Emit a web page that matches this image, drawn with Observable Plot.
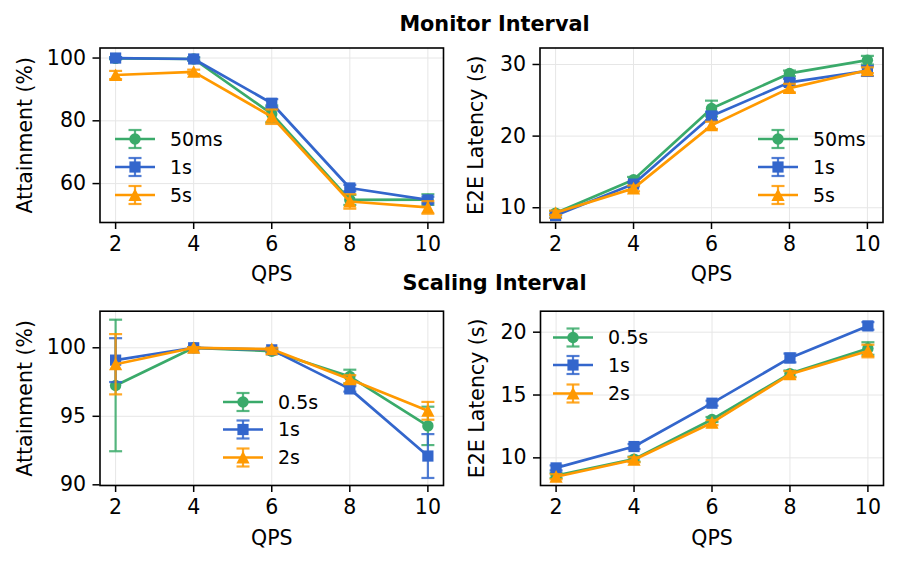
<!DOCTYPE html>
<html>
<head>
<meta charset="utf-8">
<script src="https://cdn.jsdelivr.net/npm/d3@7"></script>
<script src="https://cdn.jsdelivr.net/npm/@observablehq/plot@0.6"></script>
<style>
  body { margin: 0; background: #fff; font-family: "DejaVu Sans", sans-serif; }
  #wrap { position: relative; width: 898px; height: 565px; overflow: hidden; background: #fff; }
  #wrap svg { position: absolute; }
</style>
</head>
<body>
<div id="wrap"></div>
<script>
// ---- data ----
const qps = [2, 4, 6, 8, 10];
const monitorLabels = ["50ms", "1s", "5s"];
const scalingLabels = ["0.5s", "1s", "2s"];
const seriesColors = ["#3aaa6a", "#3366cc", "#ff9900"];

// Monitor interval – attainment (%)
const monAttain50ms = [99.9, 99.7, 82.2, 54.8, 54.9];
const monAttain50msErr = [0.3, 0.5, 2.7, 1.6, 1.7];
const monAttain1s = [100.0, 99.7, 85.6, 58.6, 54.8];
const monAttain1sErr = [0.3, 0.5, 1.3, 1.0, 1.0];
const monAttain5s = [94.6, 95.6, 81.3, 54.3, 52.4];
const monAttain5sErr = [1.3, 0.7, 2.3, 2.3, 2.0];

// Monitor interval – E2E latency (s)
const monLat50ms = [9.25, 13.9, 23.85, 28.75, 30.6];
const monLat50msErr = [0.3, 0.4, 1.1, 0.4, 0.6];
const monLat1s = [8.9, 13.3, 22.8, 27.5, 29.1];
const monLat1sErr = [0.3, 0.3, 0.6, 0.5, 0.7];
const monLat5s = [9.3, 12.7, 21.5, 26.7, 29.2];
const monLat5sErr = [0.3, 0.4, 0.5, 0.6, 0.4];

// Scaling interval – attainment (%)
const scaAttain05s = [97.25, 100.0, 99.75, 97.9, 94.3];
const scaAttain05sErr = [4.8, 0.05, 0.1, 0.5, 1.4];
const scaAttain1s = [99.1, 100.0, 99.85, 97.0, 92.1];
const scaAttain1sErr = [1.6, 0.05, 0.1, 0.2, 1.6];
const scaAttain2s = [98.8, 100.0, 99.9, 97.7, 95.4];
const scaAttain2sErr = [2.2, 0.05, 0.1, 0.3, 0.65];

// Scaling interval – E2E latency (s)
const scaLat05s = [8.6, 9.9, 13.05, 16.7, 18.7];
const scaLat05sErr = [0.2, 0.2, 0.2, 0.25, 0.5];
const scaLat1s = [9.2, 10.9, 14.35, 17.95, 20.5];
const scaLat1sErr = [0.2, 0.2, 0.2, 0.35, 0.3];
const scaLat2s = [8.5, 9.85, 12.8, 16.65, 18.5];
const scaLat2sErr = [0.2, 0.2, 0.2, 0.25, 0.5];

const attainTicks = [60, 80, 100];
const latTicks = [10, 20, 30];
const scaAttainTicks = [90, 95, 100];
const scaLatTicks = [10, 15, 20];

// ---- helpers ----
function rowsOf(values, errs) {
  return qps.map((q, i) => ({qps: q, v: values[i], lo: values[i] - errs[i], hi: values[i] + errs[i]}));
}
const symCircle = {draw(c) { c.moveTo(5.7, 0); c.arc(0, 0, 5.7, 0, 2 * Math.PI); }};
const symSquare = {draw(c) { c.rect(-5.6, -5.6, 11.2, 11.2); }};
const symTriangle = {draw(c) { c.moveTo(0, -6.6); c.lineTo(6.6, 6); c.lineTo(-6.6, 6); c.closePath(); }};
const symCap = {draw(c) { c.moveTo(-6.5, 0); c.lineTo(6.5, 0); }};
const symbols = [symCircle, symSquare, symTriangle];

const FONT = "DejaVu Sans";

function panel(o) {
  const marks = [
    Plot.gridX({ticks: qps, stroke: "#e6e6e6", strokeOpacity: 1, strokeWidth: 1}),
    Plot.gridY({ticks: o.yTicks, stroke: "#e6e6e6", strokeOpacity: 1, strokeWidth: 1}),
    Plot.axisX({ticks: qps, tickSize: 7, tickPadding: 7, strokeWidth: 1.5, fontSize: 20.5, label: null}),
    Plot.axisX({ticks: [], tickSize: 0, label: "QPS", labelAnchor: "center", labelArrow: "none", labelOffset: o.xLabelOffset, fontSize: 20.5}),
    Plot.axisY({ticks: o.yTicks, tickSize: 7, tickPadding: 7, strokeWidth: 1.5, fontSize: 20.5, label: null}),
    Plot.axisY({ticks: [], tickSize: 0, label: o.yLabel, labelAnchor: "center", labelArrow: "none", labelOffset: o.yLabelOffset, fontSize: 20.5})
  ];
  o.series.forEach((rows, i) => {
    const c = seriesColors[i];
    marks.push(
      Plot.ruleX(rows, {x: "qps", y1: "lo", y2: "hi", stroke: c, strokeWidth: 2.2, strokeOpacity: 0.85}),
      Plot.dot(rows, {x: "qps", y: "lo", symbol: symCap, fill: "none", stroke: c, strokeWidth: 2.2, strokeOpacity: 0.85}),
      Plot.dot(rows, {x: "qps", y: "hi", symbol: symCap, fill: "none", stroke: c, strokeWidth: 2.2, strokeOpacity: 0.85}),
      Plot.line(rows, {x: "qps", y: "v", stroke: c, strokeWidth: 2.7}),
      Plot.dot(rows, {x: "qps", y: "v", symbol: symbols[i], fill: c, stroke: "none"})
    );
  });
  marks.push(Plot.frame({stroke: "black", strokeWidth: 1.6}));
  const svg = Plot.plot({
    width: o.width, height: o.height,
    marginLeft: o.ml, marginRight: o.mr, marginTop: o.mt, marginBottom: o.mb,
    style: {background: "none", overflow: "visible", fontFamily: FONT, color: "black"},
    x: {type: "linear", domain: [1.6, 10.4]},
    y: {type: "linear", domain: o.yDomain},
    marks
  });
  svg.style.left = o.left + "px";
  svg.style.top = o.top + "px";
  // legend
  const g = d3.select(svg).append("g").attr("font-family", FONT).attr("font-size", 19).attr("text-anchor", "start");
  o.labels.forEach((lab, i) => {
    const c = seriesColors[i];
    const y = o.legY[i] - o.top;
    const x0 = o.legX - o.left;
    const e = g.append("g");
    e.append("line").attr("x1", x0 + 20).attr("x2", x0 + 20).attr("y1", y - 9).attr("y2", y + 9)
      .attr("stroke", c).attr("stroke-width", 2.2).attr("stroke-opacity", 0.85);
    [-9, 9].forEach(d => e.append("line").attr("x1", x0 + 13.5).attr("x2", x0 + 26.5).attr("y1", y + d).attr("y2", y + d)
      .attr("stroke", c).attr("stroke-width", 2.2).attr("stroke-opacity", 0.85));
    e.append("line").attr("x1", x0).attr("x2", x0 + 40).attr("y1", y).attr("y2", y)
      .attr("stroke", c).attr("stroke-width", 2.7);
    const p = d3.path(); symbols[i].draw(p);
    e.append("path").attr("d", p.toString()).attr("transform", `translate(${x0 + 20},${y})`).attr("fill", c);
    e.append("text").attr("x", x0 + 55).attr("y", y).attr("dy", "0.36em").attr("fill", "black")
      .attr("text-anchor", "start").text(lab);
  });
  document.getElementById("wrap").appendChild(svg);
}

panel({
  left: 0, top: 0, width: 449, height: 283, ml: 99.5, mr: 6, mt: 47.5, mb: 61,
  yDomain: [47.6, 103.2], yTicks: attainTicks, yLabel: "Attainment (%)", yLabelOffset: 83, xLabelOffset: 58,
  series: [rowsOf(monAttain50ms, monAttain50msErr), rowsOf(monAttain1s, monAttain1sErr), rowsOf(monAttain5s, monAttain5sErr)],
  labels: monitorLabels, legX: 115, legY: [139, 167, 195]
});
panel({
  left: 449, top: 0, width: 449, height: 283, ml: 90.5, mr: 15.5, mt: 47.5, mb: 61,
  yDomain: [7.94, 32.3], yTicks: latTicks, yLabel: "E2E Latency (s)", yLabelOffset: 71.5, xLabelOffset: 58,
  series: [rowsOf(monLat50ms, monLat50msErr), rowsOf(monLat1s, monLat1sErr), rowsOf(monLat5s, monLat5sErr)],
  labels: monitorLabels, legX: 758, legY: [139, 167, 195]
});
panel({
  left: 0, top: 283, width: 449, height: 282, ml: 99.5, mr: 6, mt: 27.7, mb: 80,
  yDomain: [89.95, 102.67], yTicks: scaAttainTicks, yLabel: "Attainment (%)", yLabelOffset: 83, xLabelOffset: 59,
  series: [rowsOf(scaAttain05s, scaAttain05sErr), rowsOf(scaAttain1s, scaAttain1sErr), rowsOf(scaAttain2s, scaAttain2sErr)],
  labels: scalingLabels, legX: 223, legY: [402, 429.5, 457.5]
});
panel({
  left: 449, top: 283, width: 449, height: 282, ml: 91, mr: 15, mt: 27.7, mb: 80,
  yDomain: [7.8, 21.67], yTicks: scaLatTicks, yLabel: "E2E Latency (s)", yLabelOffset: 71.5, xLabelOffset: 59,
  series: [rowsOf(scaLat05s, scaLat05sErr), rowsOf(scaLat1s, scaLat1sErr), rowsOf(scaLat2s, scaLat2sErr)],
  labels: scalingLabels, legX: 553, legY: [337.5, 365, 393.5]
});

// super titles
const over = d3.select("#wrap").append("svg").attr("width", 898).attr("height", 565)
  .style("left", "0px").style("top", "0px").style("pointer-events", "none");
over.append("text").attr("x", 494.5).attr("y", 31).attr("text-anchor", "middle")
  .attr("font-family", FONT).attr("font-weight", "bold").attr("font-size", 20.8).text("Monitor Interval");
over.append("text").attr("x", 494.5).attr("y", 290).attr("text-anchor", "middle")
  .attr("font-family", FONT).attr("font-weight", "bold").attr("font-size", 20.8).text("Scaling Interval");
</script>
</body>
</html>
